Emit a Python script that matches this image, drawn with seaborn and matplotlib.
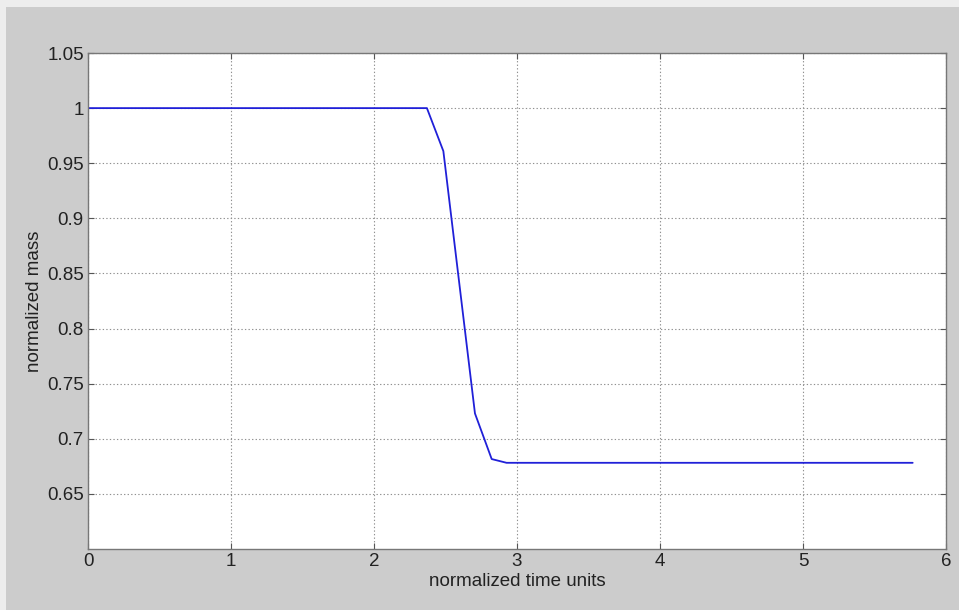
import matplotlib
matplotlib.use("Agg")
import matplotlib.pyplot as plt
import seaborn as sns
import pandas as pd
from matplotlib.patches import Rectangle

time_units = [0.0, 2.37, 2.485, 2.706, 2.823, 2.927, 5.767]
mass = [1.0, 1.0, 0.961, 0.723, 0.6816, 0.6782, 0.6782]
x_ticks = [0, 1, 2, 3, 4, 5, 6]
y_ticks = [0.65, 0.7, 0.75, 0.8, 0.85, 0.9, 0.95, 1.0, 1.05]
y_tick_labels = ["0.65", "0.7", "0.75", "0.8", "0.85", "0.9", "0.95", "1", "1.05"]

sns.set_theme(style="white")
plt.rcParams['font.family'] = ['Liberation Sans', 'DejaVu Sans']

df = pd.DataFrame({"t": time_units, "m": mass})

fig = plt.figure(figsize=(9.59, 6.10), dpi=100)
fig.patch.set_facecolor("#cccccc")
# light border strips at top and left, as in the reference image
fig.add_artist(Rectangle((0, 1 - 7/610), 1, 7/610, transform=fig.transFigure,
                         facecolor="#ededed", edgecolor="none", zorder=0))
fig.add_artist(Rectangle((0, 0), 6/959, 1, transform=fig.transFigure,
                         facecolor="#ededed", edgecolor="none", zorder=0))

ax = fig.add_axes([88/959, 1 - 549/610, (946-88)/959, (549-53)/610])
ax.set_facecolor("white")

sns.lineplot(data=df, x="t", y="m", ax=ax, color="#2020d8", linewidth=1.3,
             estimator=None, sort=False)

ax.set_xlim(0, 6)
ax.set_ylim(0.6, 1.05)
ax.set_xticks(x_ticks)
ax.set_xticklabels([str(v) for v in x_ticks])
ax.set_yticks(y_ticks)
ax.set_yticklabels(y_tick_labels)
ax.grid(True, color="#909090", linestyle=(0, (1.2, 2.0)), linewidth=0.8)
ax.tick_params(direction="in", length=4, width=0.8, color="#555555",
               labelsize=13.5, labelcolor="#222222", pad=3,
               top=True, right=True, bottom=True, left=True)
for s in ax.spines.values():
    s.set_color("#777777")
    s.set_linewidth(1.0)
ax.set_xlabel("normalized time units", fontsize=13.5, color="#222222", labelpad=2)
ax.set_ylabel("normalized mass", fontsize=13.5, color="#222222", labelpad=3)

fig.savefig("out.png", dpi=100, facecolor=fig.get_facecolor())
